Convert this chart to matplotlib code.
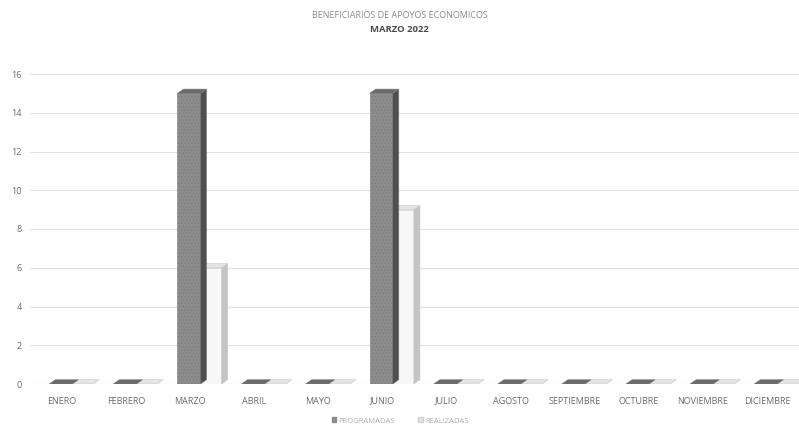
import matplotlib
matplotlib.use("Agg")
import matplotlib.pyplot as plt
from matplotlib.patches import Polygon, Patch
import numpy as np

months = ["ENERO", "FEBRERO", "MARZO", "ABRIL", "MAYO", "JUNIO", "JULIO",
          "AGOSTO", "SEPTIEMBRE", "OCTUBRE", "NOVIEMBRE", "DICIEMBRE"]
programadas = [0, 0, 15, 0, 0, 15, 0, 0, 0, 0, 0, 0]
realizadas = [0, 0, 6, 0, 0, 9, 0, 0, 0, 0, 0, 0]
yticks = [0, 2, 4, 6, 8, 10, 12, 14, 16]

plt.rcParams['font.family'] = ['Open Sans', 'DejaVu Sans']

fig = plt.figure(figsize=(7.99, 4.29), dpi=100)
ax = fig.add_axes([30/799, 1-384/429, 769/799, 310/429])

x = np.arange(len(months))
w = 0.36
off_p = -0.02
off_r = 0.31
dx = 0.095   # depth in data x units
dy = 0.22    # depth in data y units

def draw3d(xc, h, front, side, top, edge, hatch=None, z=3):
    x0 = xc - w/2
    x1 = xc + w/2
    if h > 0:
        ax.bar(xc, h, width=w, color=front, edgecolor=edge, linewidth=0.4,
               hatch=hatch, zorder=z)
        ax.add_patch(Polygon([[x1, 0], [x1 + dx, dy], [x1 + dx, h + dy], [x1, h]],
                             closed=True, facecolor=side, edgecolor=edge, linewidth=0.4, zorder=z))
    ax.add_patch(Polygon([[x0, h], [x0 + dx, h + dy], [x1 + dx, h + dy], [x1, h]],
                         closed=True, facecolor=top, edgecolor=edge, linewidth=0.4, zorder=z))

plt.rcParams['hatch.color'] = '#6e6e6e'
plt.rcParams['hatch.linewidth'] = 0.4

for i in range(len(months)):
    draw3d(x[i] + off_r, realizadas[i], '#f7f7f7', '#c4c4c4', '#e4e4e4', '#c8c8c8', z=3)
    draw3d(x[i] + off_p, programadas[i], '#8c8c8c', '#4f4f4f', '#6a6a6a', '#7a7a7a', hatch='.....', z=4)

ax.set_xlim(-0.5, 11.5)
ax.set_ylim(0, 16)
ax.set_yticks(yticks)
ax.set_yticklabels([str(v) for v in yticks])
ax.set_xticks(x)
ax.set_xticklabels(months)
ax.grid(axis='y', color='#e3e3e3', linewidth=0.8, zorder=0)
ax.set_axisbelow(True)
for s in ax.spines.values():
    s.set_visible(False)
ax.axhline(0, color='#d9d9d9', linewidth=0.8, zorder=1)
ax.tick_params(axis='both', length=0, labelsize=6.5, colors='#6a6a6a')
ax.tick_params(axis='y', pad=6)
ax.tick_params(axis='x', pad=9)

fig.text(0.5, 1-15/429, "BENEFICIARIOS DE APOYOS ECONOMICOS", ha='center', va='center',
         fontsize=6.5, color='#8a8a8a')
fig.text(0.5, 1-29/429, "MARZO 2022", ha='center', va='center',
         fontsize=6.8, color='#4a4a4a', fontweight='bold')

handles = [Patch(facecolor='#8c8c8c', edgecolor='#8c8c8c'),
           Patch(facecolor='#e4e4e4', edgecolor='#d0d0d0')]
leg = fig.legend(handles, ["PROGRAMADAS", "REALIZADAS"], loc='center',
                 bbox_to_anchor=(400/799, 1-421/429), ncol=2, frameon=False,
                 fontsize=5.5, handlelength=0.6, handleheight=0.6, columnspacing=3,
                 handletextpad=0.3)
for t in leg.get_texts():
    t.set_color('#b0b0b0')

fig.savefig("out.png", dpi=100)
